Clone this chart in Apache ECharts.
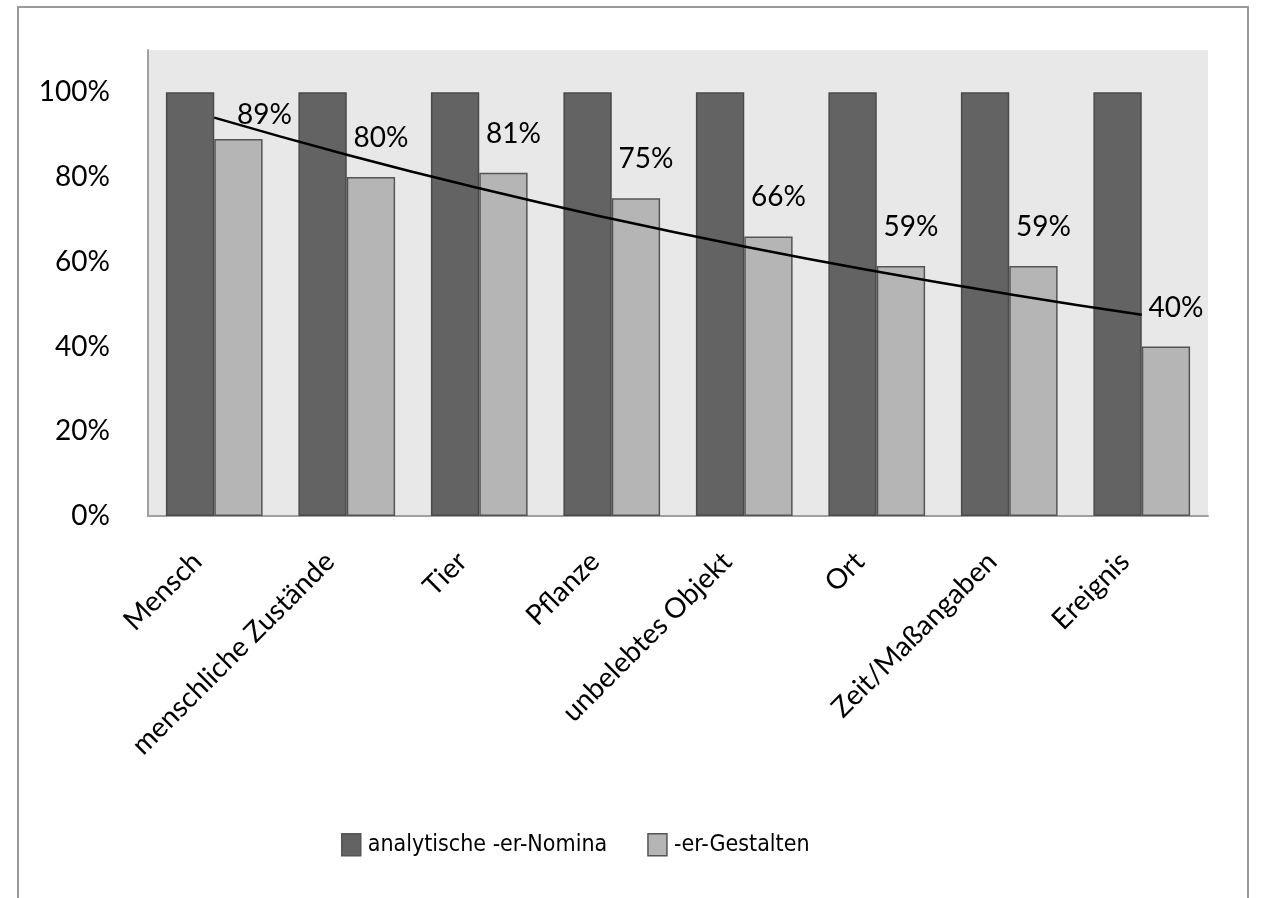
<!DOCTYPE html>
<html><head><meta charset="utf-8">
<script src="https://cdn.jsdelivr.net/npm/echarts@6/dist/echarts.min.js"></script>
<style>html,body{margin:0;padding:0;background:#fff}#c{width:1262px;height:898px}</style>
</head><body><div id="c"></div>
<script>
var categories = ['Mensch','menschliche Zustände','Tier','Pflanze','unbelebtes Objekt','Ort','Zeit/Maßangaben','Ereignis'];
var analytisch = [100,100,100,100,100,100,100,100];
var gestalten = [89,80,81,75,66,59,59,40];
var seriesNames = ['analytische -er-Nomina','-er-Gestalten'];

// Exponential trendline (least squares on ln y) of the -er-Gestalten series, as in the spreadsheet chart
function expTrend(vals){
  var n = vals.length, sx=0, sy=0, sxx=0, sxy=0;
  for (var i=0;i<n;i++){ var x=i+1, y=Math.log(vals[i]); sx+=x; sy+=y; sxx+=x*x; sxy+=x*y; }
  var b=(n*sxy-sx*sy)/(n*sxx-sx*sx), a=(sy-b*sx)/n;
  return vals.map(function(_,i){ return Math.exp(a+b*(i+1)); });
}
var trend = expTrend(gestalten);
// first label sits lower and further right in the original
var gestaltenData = gestalten.map(function(v,i){
  return i===0 ? {value:v, label:{offset:[26,15]}} : v;
});

var FONT = 'Lato';
var chart = echarts.init(document.getElementById('c'), null, {renderer:'canvas'});
chart.setOption({
  animation:false,
  textStyle:{fontFamily:FONT},
  graphic:[{type:'rect', shape:{x:18,y:7,width:1230,height:960}, style:{fill:'none', stroke:'#9a9a9a', lineWidth:2}, silent:true, z:-1}],
  grid:{left:148,right:54,top:50,bottom:382,show:true,backgroundColor:'#e8e8e8',borderWidth:0},
  legend:{
    data:seriesNames, top:828, left:336, itemWidth:19, itemHeight:22, itemGap:40,
    textStyle:{fontFamily:'"DejaVu Sans Condensed", Lato',fontSize:23,lineHeight:22,color:'#000',padding:[0,0,0,2]}, icon:'rect',
    itemStyle:{borderColor:'#555', borderWidth:1.5}
  },
  xAxis:{
    type:'category', data:categories,
    axisLine:{lineStyle:{color:'#a0a0a0',width:2}}, axisTick:{show:false},
    axisLabel:{rotate:45, interval:0, margin:24, padding:[0,24,0,0], fontFamily:FONT, fontSize:28, color:'#000'}
  },
  yAxis:{
    type:'value', min:0, max:110, interval:20,
    axisLine:{show:true,lineStyle:{color:'#a0a0a0',width:2}}, axisTick:{show:false}, splitLine:{show:false},
    axisLabel:{margin:38, fontFamily:FONT, fontSize:28, color:'#000', formatter:function(v){return v>100?'':v+'%';}}
  },
  series:[
    {name:seriesNames[0], type:'bar', data:analytisch, barGap:'0%', barCategoryGap:'27%',
     itemStyle:{color:'#636363', borderColor:'#4a4a4a', borderWidth:1.5}},
    {name:seriesNames[1], type:'bar', data:gestaltenData, barGap:'0%', barCategoryGap:'27%',
     itemStyle:{color:'#b5b5b5', borderColor:'#555555', borderWidth:1.5},
     label:{show:true, position:'top', distance:25, offset:[10,0], formatter:'{c}%', fontFamily:FONT, fontSize:28, color:'#000'}},
    {name:'Trend', type:'line', data:trend, smooth:true, symbol:'none', z:5,
     lineStyle:{color:'#000', width:2.5}}
  ]
});
</script></body></html>
